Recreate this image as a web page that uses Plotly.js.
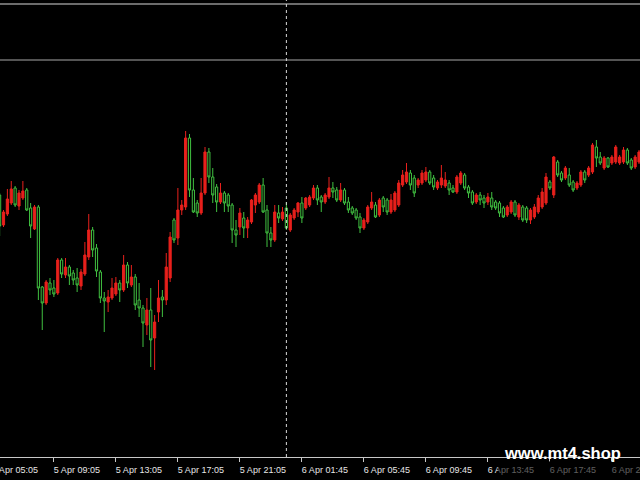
<!DOCTYPE html>
<html>
<head>
<meta charset="utf-8">
<script src="https://cdn.plot.ly/plotly-3.0.1.min.js"></script>
<style>
  html, body { margin:0; padding:0; background:#000; overflow:hidden; width:640px; height:480px; }
  #chart { position:absolute; left:-12px; top:0; width:660px; height:480px; }
</style>
</head>
<body>
<div id="chart"></div>
<script>
// Bar numbers (chart index, left to right)
const firstBar = 2;
const openVals = [305,275,286,297,312,294,302,310,292,271,293,213,197,217,212,207,240,225,233,227,
  222,214,226,243,270,252,228,202,198,202,206,217,210,235,215,223,200,192,175,190,
  162,188,203,200,222,280,262,290,293,362,310,297,287,307,348,323,313,298,307,305,
  295,270,273,282,272,278,295,298,315,290,267,260,287,281,292,270,282,288,297,292,
  295,302,312,303,298,303,312,310,300,310,298,292,290,283,272,278,292,295,285,302,
  300,288,290,295,315,318,327,322,315,317,320,328,322,312,315,314,317,312,308,317,
  325,313,308,298,305,302,298,302,298,297,292,285,288,298,283,293,292,280,283,288,
  293,297,318,305,338,327,322,325,318,312,315,328,325,328,353,343,332,342,337,338,
  337,338,350,340,333,338];
const highVals = [307,290,311,319,314,310,319,312,297,295,295,214,220,222,220,242,242,242,235,230,
  232,231,258,286,273,256,230,208,210,222,223,220,245,238,235,226,217,195,202,212,
  185,220,210,247,268,282,312,300,369,366,322,300,322,353,352,332,316,317,309,307,
  297,280,292,288,283,301,307,317,322,295,273,295,295,293,298,287,292,298,303,303,
  305,315,315,305,307,323,318,313,317,312,303,294,292,287,282,295,308,298,302,304,
  302,306,309,320,330,337,330,325,322,330,333,330,325,320,335,328,320,315,325,329,
  327,315,310,307,308,305,307,308,300,299,294,295,300,300,297,295,294,292,296,305,
  312,327,320,344,340,329,334,332,320,319,330,330,334,357,360,348,344,343,345,355,
  345,353,352,342,345,350];
const lowVals = [264,273,284,295,293,290,300,289,262,270,200,170,195,205,203,205,222,222,215,215,
  208,210,224,240,243,223,197,168,188,200,204,198,208,212,213,190,183,153,165,133,
  130,178,183,195,218,257,255,285,290,303,287,283,285,305,317,297,288,296,288,288,
  257,253,265,262,262,276,287,296,287,253,253,258,277,279,270,268,280,283,277,290,
  293,300,295,288,296,301,302,298,298,295,287,285,280,267,270,276,290,282,283,288,
  285,286,288,293,313,316,310,303,312,315,318,315,310,310,312,312,305,307,306,315,
  310,302,295,296,295,292,295,290,290,283,282,283,286,283,280,278,277,276,281,286,
  291,295,310,302,323,318,320,313,308,310,313,317,323,326,333,335,330,332,335,336,
  335,336,335,330,331,336];
const closeVals = [274,288,301,311,295,307,309,290,274,293,212,197,218,210,206,240,226,233,224,220,
  215,228,245,270,250,229,202,199,203,212,217,210,235,217,223,195,192,177,190,160,
  178,202,200,233,263,260,290,295,362,310,288,287,307,348,323,305,298,307,297,294,
  270,265,287,272,280,300,305,315,288,267,260,288,282,288,272,285,290,297,282,302,
  303,312,300,298,305,312,308,300,310,297,290,287,282,272,280,293,298,283,300,293,
  288,300,307,317,325,328,315,307,320,327,328,317,313,318,322,320,310,308,323,327,
  312,307,297,305,300,297,303,293,292,287,283,293,298,285,295,280,280,290,293,302,
  308,323,312,343,325,320,332,315,310,317,328,320,332,355,342,337,342,333,343,353,
  343,350,337,332,343,348];

// Time axis labels and the bars they sit on
const tickBars = [0,16,32,48,64,80,96,112,128,144,160];
const tickLabels = ["5 Apr 05:05","5 Apr 09:05","5 Apr 13:05","5 Apr 17:05","5 Apr 21:05",
  "6 Apr 01:45","6 Apr 05:45","6 Apr 09:45","6 Apr 13:45","6 Apr 17:45","6 Apr 21:45"];

// Horizontal level lines (price) and the vertical marker line (bar)
const levelLines = [496, 440];
const markerBar = 76;

const bars = openVals.map((_, k) => firstBar + k);

const UP = '#e8201c';
const DOWN = '#40c040';

const trace = {
  type: 'candlestick',
  x: bars,
  open: openVals, high: highVals, low: lowVals, close: closeVals,
  increasing: { line: { color: UP, width: 1 }, fillcolor: UP },
  decreasing: { line: { color: DOWN, width: 1 }, fillcolor: '#000000' },
  whiskerwidth: 0,
  hoverinfo: 'skip'
};

const shapes = [
  { type:'line', xref:'paper', x0:0, x1:1, yref:'y', y0:levelLines[0], y1:levelLines[0],
    line:{ color:'#d8d8d8', width:1 }, layer:'below' },
  { type:'line', xref:'paper', x0:0, x1:1, yref:'y', y0:levelLines[1], y1:levelLines[1],
    line:{ color:'#a8a8a8', width:1 }, layer:'below' },
  { type:'line', xref:'x', x0:markerBar, x1:markerBar, yref:'paper', y0:0, y1:1,
    line:{ color:'#d8d8d8', width:1, dash:'3px,3px' }, layer:'above' },
  { type:'rect', xref:'paper', x0:0.773, x1:1.02, yref:'paper', y0:-0.0088, y1:-0.045,
    fillcolor:'rgba(0,0,0,0.6)', line:{ width:0 }, layer:'above' }
];

const layout = {
  width: 660, height: 480,
  margin: { l:0, r:0, t:0, b:23, pad:0 },
  paper_bgcolor: '#000000',
  plot_bgcolor: '#000000',
  showlegend: false,
  boxgap: 0.2,
  xaxis: {
    range: [-1, 169.32],
    rangeslider: { visible:false },
    showgrid: false, zeroline: false,
    showline: true, linecolor: '#c8c8c8', linewidth: 1,
    tickmode: 'array', tickvals: tickBars, ticktext: tickLabels,
    ticks: 'outside', ticklen: 4, tickcolor: '#c8c8c8', tickwidth: 1,
    ticklabelshift: 23, ticklabelstandoff: 0, ticklabeloverflow: 'allow',
    tickfont: { family: 'Liberation Sans, Arial, sans-serif', size: 9, color: '#e6e6e6' },
    fixedrange: true
  },
  yaxis: {
    range: [43, 500],
    showgrid: false, zeroline: false, showline: false,
    showticklabels: false, ticks: '',
    fixedrange: true
  },
  shapes: shapes,
  annotations: [
    { text: 'www.mt4.shop', xref:'paper', yref:'paper', x:0.8697, y:0, xanchor:'center', yanchor:'middle',
      yshift: 4, showarrow:false,
      font: { family:'Liberation Sans, Arial, sans-serif', size:16.5, color:'#ffffff', weight:'bold' } }
  ]
};

Plotly.newPlot('chart', [trace], layout, { staticPlot:true, displayModeBar:false });
</script>
</body>
</html>
